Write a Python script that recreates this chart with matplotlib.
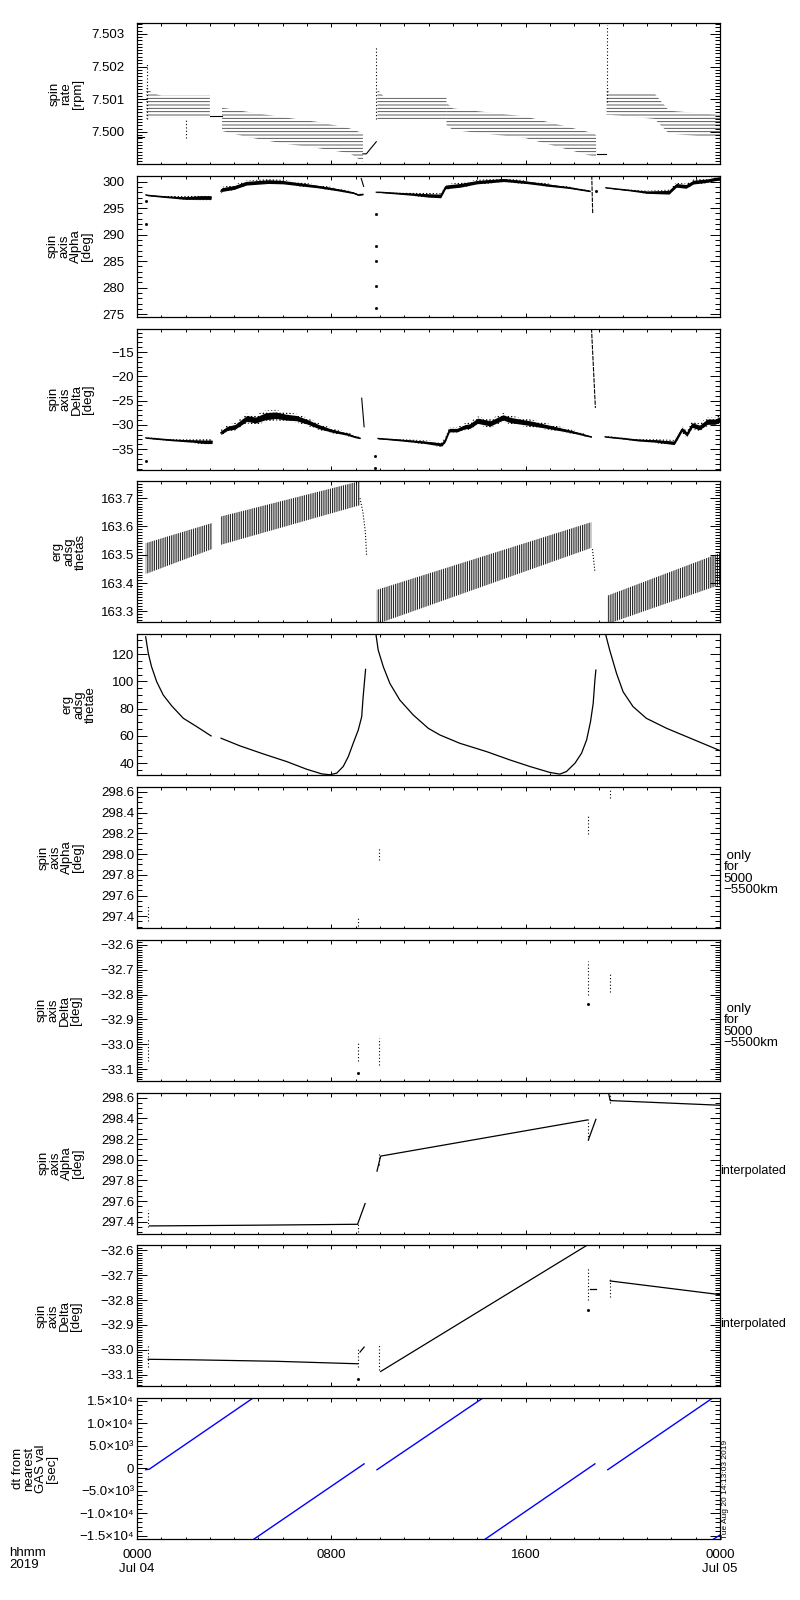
import numpy as np
import matplotlib
matplotlib.use('Agg')
import matplotlib.pyplot as plt
from matplotlib.ticker import MultipleLocator, FuncFormatter

plt.rcParams['font.family'] = ['Liberation Sans', 'DejaVu Sans']
plt.rcParams['hatch.linewidth'] = 0.6

BLUE = '#0000ff'
FS = 9.5

# ---- time axis (hours since 2019-07-04 00:00) ----
x_ticks = [0, 8, 16, 24]
x_tick_labels = ['0000\nJul 04', '0800', '1600', '0000\nJul 05']

# ---- panel 1: spin rate [rpm] (quantised bands: time, low, high) ----
rate_flat1_t = [0.0, 0.3]
rate_flat1_v = [7.49985, 7.49985]
rate_bandA_t = [0.38, 0.6, 1.0, 3.0]
rate_bandA_lo = [7.5004, 7.50045, 7.50045, 7.50045]
rate_bandA_hi = [7.5014, 7.5012, 7.50111, 7.50111]
rate_flat2_t = [3.0, 3.5]
rate_flat2_v = [7.5005, 7.5005]
rate_bandB_t = [3.5, 4.5, 6.0, 7.5, 8.75, 9.3]
rate_bandB_lo = [7.50003, 7.49985, 7.49965, 7.4995, 7.49935, 7.49909]
rate_bandB_hi = [7.50074, 7.50062, 7.50045, 7.5003, 7.50011, 7.49996]
rate_diag_t = [9.3, 9.44, 9.85]
rate_diag_v = [7.49933, 7.49933, 7.4997]
rate_bandC_t = [9.9, 10.2, 12.74]
rate_bandC_lo = [7.5004, 7.50037, 7.50037]
rate_bandC_hi = [7.5013, 7.50105, 7.50105]
rate_bandD_t = [12.74, 13.0, 16.0, 18.8, 18.9]
rate_bandD_lo = [7.50021, 7.50006, 7.49981, 7.49925, 7.4992]
rate_bandD_hi = [7.50089, 7.50072, 7.50047, 7.49996, 7.4999]
rate_flat3_t = [18.92, 19.3]
rate_flat3_v = [7.49933, 7.49933]
rate_bandE_t = [19.33, 19.5, 21.3, 21.9, 24.0]
rate_bandE_lo = [7.50052, 7.50052, 7.5004, 7.49995, 7.49982]
rate_bandE_hi = [7.5013, 7.50118, 7.50118, 7.50065, 7.50052]
rate_spike_t = [0.42, 2.0, 9.85, 19.33]
rate_spike_lo = [7.5004, 7.4998, 7.5004, 7.5009]
rate_spike_hi = [7.5021, 7.5004, 7.5026, 7.50327]

# ---- panel 2: spin axis Alpha [deg] (time, centre, half spread) ----
alpha_seg1_t = [0.36, 0.5, 1.25, 2.0, 2.6, 3.05]
alpha_seg1_v = [297.5, 297.4, 297.1, 296.9, 297.0, 297.0]
alpha_seg1_w = [0.15, 0.15, 0.2, 0.35, 0.5, 0.5]
alpha_seg2_t = [3.45, 3.5, 4.0, 4.5, 5.4, 6.0, 6.7, 7.4, 8.1, 8.9, 9.1, 9.3]
alpha_seg2_v = [298.2, 298.5, 298.9, 299.7, 300.0, 299.9, 299.5, 299.1, 298.6, 297.9, 297.5, 297.6]
alpha_seg2_w = [0.5, 0.5, 0.5, 0.5, 0.5, 0.45, 0.4, 0.35, 0.3, 0.2, 0.15, 0.15]
alpha_seg3_t = [9.85, 10.0, 11.4, 12.0, 12.5, 12.7, 13.3, 14.0, 15.1, 16.0, 17.0, 17.8, 18.65]
alpha_seg3_v = [298.0, 298.0, 297.6, 297.4, 297.3, 299.0, 299.3, 299.9, 300.3, 299.9, 299.3, 298.85, 298.2]
alpha_seg3_w = [0.1, 0.1, 0.3, 0.45, 0.5, 0.5, 0.5, 0.45, 0.4, 0.35, 0.3, 0.2, 0.15]
alpha_seg4_t = [19.3, 20.3, 21.0, 21.9, 22.2, 22.6, 22.9, 23.5, 23.8, 24.0]
alpha_seg4_v = [298.85, 298.35, 298.0, 298.0, 299.3, 299.1, 299.9, 300.2, 300.5, 300.6]
alpha_seg4_w = [0.1, 0.15, 0.3, 0.5, 0.5, 0.5, 0.5, 0.45, 0.45, 0.45]
alpha_spike1_t = [9.23, 9.33]
alpha_spike1_v = [300.6, 299.1]
alpha_spike2_t = [18.72, 18.76]
alpha_spike2_v = [301.2, 293.9]
alpha_dots_t = [0.36, 0.36, 9.84, 9.84, 9.84, 9.84, 9.84, 18.89]
alpha_dots_v = [296.3, 292.1, 293.9, 287.9, 285.0, 280.3, 276.1, 298.2]

# ---- panel 3: spin axis Delta [deg] ----
delta_seg1_t = [0.36, 0.67, 1.51, 2.35, 2.77, 3.09]
delta_seg1_v = [-32.66, -32.79, -33.14, -33.34, -33.48, -33.48]
delta_seg1_w = [0.15, 0.2, 0.25, 0.4, 0.6, 0.6]
delta_seg2_t = [3.45, 3.72, 4.04, 4.52, 4.88, 5.30, 5.72, 6.14, 6.56, 6.98, 7.50, 8.03, 8.66, 8.97, 9.18]
delta_seg2_v = [-31.62, -30.72, -30.38, -28.66, -29.0, -28.2, -28.0, -28.4, -28.6, -29.3, -30.38, -31.21, -31.9, -32.45, -32.72]
delta_seg2_w = [0.6, 0.7, 0.8, 1.0, 1.0, 1.2, 1.1, 1.0, 0.9, 0.8, 0.7, 0.5, 0.4, 0.3, 0.2]
delta_seg3_t = [9.92, 10.34, 11.18, 11.81, 12.23, 12.55, 12.69, 12.86, 13.18, 13.49, 13.70, 14.02, 14.54,
                15.07, 15.38, 16.23, 17.07, 17.91, 18.7]
delta_seg3_v = [-32.79, -32.93, -33.28, -33.55, -33.83, -34.03, -33.14, -31.07, -31.07, -30.38, -30.24, -29.14,
                -29.69, -28.45, -29.0, -29.69, -30.52, -31.41, -32.45]
delta_seg3_w = [0.15, 0.2, 0.3, 0.4, 0.5, 0.5, 0.6, 0.6, 0.6, 0.7, 0.8, 0.9, 0.9, 0.9, 0.9, 0.8, 0.6, 0.4, 0.2]
delta_seg4_t = [19.27, 20.01, 20.64, 21.27, 21.69, 22.11, 22.22, 22.43, 22.64, 22.85, 23.16, 23.48, 23.79, 24.0]
delta_seg4_v = [-32.45, -32.79, -33.14, -33.28, -33.48, -33.69, -32.79, -30.93, -31.9, -30.03, -30.52, -29.34,
                -29.34, -28.86]
delta_seg4_w = [0.15, 0.2, 0.3, 0.4, 0.5, 0.6, 0.7, 0.7, 0.7, 0.8, 0.8, 0.9, 0.9, 0.9]
delta_spike1_t = [9.25, 9.35]
delta_spike1_v = [-24.5, -30.4]
delta_spike2_t = [18.71, 18.87]
delta_spike2_v = [-10.1, -26.5]
delta_dots_t = [0.36, 9.78, 9.8]
delta_dots_v = [-37.4, -36.4, -38.9]

# ---- panel 4: erg adsg thetas (oscillation envelope) ----
thetas_seg1_t = [0.36, 3.09]
thetas_seg1_lo = [163.432, 163.52]
thetas_seg1_hi = [163.541, 163.612]
thetas_seg2_t = [3.45, 9.18]
thetas_seg2_lo = [163.535, 163.675]
thetas_seg2_hi = [163.635, 163.76]
thetas_seg3_t = [9.87, 18.7]
thetas_seg3_lo = [163.255, 163.524]
thetas_seg3_hi = [163.376, 163.615]
thetas_seg4_t = [19.35, 24.0]
thetas_seg4_lo = [163.255, 163.394]
thetas_seg4_hi = [163.355, 163.506]
thetas_tail1_t = [9.18, 9.3, 9.4, 9.45]
thetas_tail1_v = [163.70, 163.65, 163.58, 163.5]
thetas_tail2_t = [18.75, 18.8, 18.85]
thetas_tail2_v = [163.52, 163.48, 163.44]

# ---- panel 5: erg adsg thetae ----
thetae_seg1_t = [0.357, 0.466, 0.60, 0.81, 1.08, 1.43, 1.91, 2.46, 3.05]
thetae_seg1_v = [132.7, 120.5, 110.7, 99.8, 90.0, 82.0, 72.9, 66.8, 60.0]
thetae_seg2_t = [3.46, 4.24, 5.2, 6.16, 6.98, 7.6, 7.94, 8.22, 8.49, 8.7, 8.9, 9.11, 9.25, 9.31, 9.41]
thetae_seg2_v = [58.3, 52.7, 46.8, 41.2, 35.6, 32.2, 31.5, 32.7, 37.6, 44.9, 54.6, 64.4, 74.1, 88.8, 108.8]
thetae_seg3_t = [9.84, 9.93, 10.14, 10.41, 10.82, 11.37, 11.99, 12.47, 13.29, 14.39, 15.35, 16.17, 17.0,
                 17.41, 17.68, 18.03, 18.3, 18.51, 18.67, 18.78, 18.85, 18.89]
thetae_seg3_v = [134.0, 122.9, 110.7, 98.5, 86.3, 75.4, 65.6, 60.7, 54.6, 48.5, 42.4, 37.6, 33.2,
                 32.0, 33.9, 40.0, 47.3, 57.1, 70.5, 83.9, 101.0, 108.3]
thetae_seg4_t = [19.3, 19.46, 19.74, 20.01, 20.42, 20.97, 21.8, 22.62, 23.44, 23.99]
thetae_seg4_v = [133.9, 122.9, 105.9, 92.4, 81.5, 72.9, 65.6, 59.5, 53.4, 49.3]

# ---- panels 6/7: spin axis for 5000-5500 km only (short vertical runs) ----
alt_t = [0.46, 9.08, 9.96, 18.58, 19.48]
alt_alpha_lo = [297.352, 297.303, 297.948, 298.19, 298.545]
alt_alpha_hi = [297.513, 297.384, 298.068, 298.39, 298.642]
alt_delta_lo = [-33.069, -33.069, -33.083, -32.801, -32.788]
alt_delta_hi = [-32.975, -32.989, -32.975, -32.667, -32.714]
alt_delta_dots_t = [9.08, 18.58]
alt_delta_dots_v = [-33.116, -32.839]

# ---- panel 8: interpolated Alpha ----
ialpha_line1_t = [0.52, 4.85, 9.08, 9.39]
ialpha_line1_v = [297.361, 297.368, 297.377, 297.577]
ialpha_line2_t = [9.88, 10.03, 18.54]
ialpha_line2_v = [297.89, 298.035, 298.384]
ialpha_line3_t = [18.58, 18.89]
ialpha_line3_v = [298.19, 298.39]
ialpha_line4_t = [19.42, 19.48, 24.0]
ialpha_line4_v = [298.635, 298.571, 298.526]

# ---- panel 9: interpolated Delta ----
idelta_line1_t = [0.46, 2.25, 5.72, 9.08]
idelta_line1_v = [-33.038, -33.040, -33.046, -33.056]
idelta_hook_t = [9.18, 9.35]
idelta_hook_v = [-33.009, -32.989]
idelta_line2_t = [10.03, 18.6]
idelta_line2_v = [-33.087, -32.575]
idelta_line3_t = [18.64, 18.89]
idelta_line3_v = [-32.755, -32.755]
idelta_line4_t = [19.48, 24.0]
idelta_line4_v = [-32.723, -32.778]

# ---- panel 10: dt from nearest GAS val [sec] ----
dt_segments_t = [[0.36, 0.5, 4.77], [4.81, 9.35], [9.88, 14.23], [14.33, 18.85], [19.38, 23.69], [23.73, 24.0]]
dt_segments_v = [[-300, -200, 15600], [-15740, 1000], [-300, 15600], [-15740, 1000], [-300, 15600], [-15740, -14800]]
dt_ticks = [-15000, -10000, -5000, 0, 5000, 10000, 15000]
dt_tick_labels = ['\u22121.5\u00d710\u2074', '\u22121.0\u00d710\u2074', '\u22125.0\u00d710\u00b3', '0',
                  '5.0\u00d710\u00b3', '1.0\u00d710\u2074', '1.5\u00d710\u2074']

panel_titles = ['spin\nrate\n[rpm]', 'spin\naxis\nAlpha\n[deg]', 'spin\naxis\nDelta\n[deg]',
                'erg\nadsg\nthetas', 'erg\nadsg\nthetae', 'spin\naxis\nAlpha\n[deg]',
                'spin\naxis\nDelta\n[deg]', 'spin\naxis\nAlpha\n[deg]', 'spin\naxis\nDelta\n[deg]',
                'dt from\nnearest\nGAS val\n[sec]']
title_x_px = [66, 70, 71, 69, 79, 61, 59, 61, 59, 35]

# y ranges, tick spacing (major, minor), decimals, label pad
y_limits = [(7.49902, 7.50333), (274.5, 301.1), (-39.2, -10.17), (163.261, 163.759), (31.2, 134.6),
            (297.287, 298.648), (-33.147, -32.58), (297.287, 298.648), (-33.147, -32.58), (-15740, 15590)]
y_major = [0.001, 5, 5, 0.1, 20, 0.2, 0.1, 0.2, 0.1, 5000]
y_minor = [0.0001, 1, 1, 0.01, 5, 0.05, 0.01, 0.05, 0.01, 1000]
y_decimals = [3, 0, 0, 1, 0, 1, 1, 1, 1, None]
y_pads = [9, 9, 2, 2, 2, 2, 2, 2, 2, 2]


def fmt(dec):
    return FuncFormatter(lambda v, p: f'{v:.{dec}f}'.replace('-', '\u2212'))


def band_hatch(ax, t, lo, hi, hatch, color='k'):
    ax.fill_between(t, lo, hi, facecolor='none', edgecolor=color, hatch=hatch, linewidth=0)


def noisy(ax, t, v, w, core=0.65):
    v = np.array(v)
    w = np.array(w)
    # speckled outer spread and a solid core
    ax.fill_between(t, v - w, v + w, facecolor='none', edgecolor='k', hatch='.....', linewidth=0)
    ax.fill_between(t, v - core * w, v + core * w, color='k', linewidth=0)
    ax.plot(t, v, color='k', lw=0.9)


fig = plt.figure(figsize=(8, 16), dpi=100)
axes = []
for i in range(10):
    top = 23 + i * 152.8
    ax = fig.add_axes([137 / 800, 1 - (top + 141) / 1600, 583 / 800, 141 / 1600])
    ax.set_xlim(0, 24)
    ax.set_ylim(*y_limits[i])
    ax.xaxis.set_major_locator(MultipleLocator(8))
    ax.xaxis.set_minor_locator(MultipleLocator(1))
    ax.yaxis.set_major_locator(MultipleLocator(y_major[i]))
    ax.yaxis.set_minor_locator(MultipleLocator(y_minor[i]))
    if y_decimals[i] is not None:
        ax.yaxis.set_major_formatter(fmt(y_decimals[i]))
    ax.tick_params(which='both', direction='in', top=True, right=True, width=0.7, labelsize=FS)
    ax.tick_params(axis='y', which='major', length=7.5, pad=y_pads[i])
    ax.tick_params(axis='y', which='minor', length=3.6)
    ax.tick_params(axis='x', which='major', length=3)
    ax.tick_params(axis='x', which='minor', length=1.8)
    for s in ax.spines.values():
        s.set_linewidth(0.9)
    if i < 9:
        ax.set_xticklabels([])
    yc = 1 - (top + 70.5) / 1600
    fig.text(title_x_px[i] / 800, yc, panel_titles[i], rotation=90, ha='center', va='center',
             multialignment='center', fontsize=FS, linespacing=0.95)
    axes.append(ax)

# panel 1
ax = axes[0]
ax.plot(rate_flat1_t, rate_flat1_v, color='k', lw=0.8)
ax.plot(rate_flat2_t, rate_flat2_v, color='k', lw=0.8)
ax.plot(rate_flat3_t, rate_flat3_v, color='k', lw=0.8)
ax.plot(rate_diag_t, rate_diag_v, color='k', lw=0.8)
for t, lo, hi in [(rate_bandA_t, rate_bandA_lo, rate_bandA_hi), (rate_bandB_t, rate_bandB_lo, rate_bandB_hi),
                  (rate_bandC_t, rate_bandC_lo, rate_bandC_hi), (rate_bandD_t, rate_bandD_lo, rate_bandD_hi),
                  (rate_bandE_t, rate_bandE_lo, rate_bandE_hi)]:
    band_hatch(ax, t, lo, hi, '-----', color='0.25')
ax.vlines(rate_spike_t, rate_spike_lo, rate_spike_hi, colors='k', lw=0.8, linestyles=(0, (1, 2)))

# panel 2
ax = axes[1]
noisy(ax, alpha_seg1_t, alpha_seg1_v, alpha_seg1_w, core=0.7)
noisy(ax, alpha_seg2_t, alpha_seg2_v, alpha_seg2_w, core=0.7)
noisy(ax, alpha_seg3_t, alpha_seg3_v, alpha_seg3_w, core=0.7)
noisy(ax, alpha_seg4_t, alpha_seg4_v, alpha_seg4_w, core=0.7)
ax.plot(alpha_spike1_t, alpha_spike1_v, color='k', lw=0.8)
ax.plot(alpha_spike2_t, alpha_spike2_v, color='k', lw=0.8, dashes=(4, 1))
ax.plot(alpha_dots_t, alpha_dots_v, 's', color='k', ms=1)

# panel 3
ax = axes[2]
noisy(ax, delta_seg1_t, delta_seg1_v, delta_seg1_w, core=0.6)
noisy(ax, delta_seg2_t, delta_seg2_v, delta_seg2_w, core=0.6)
noisy(ax, delta_seg3_t, delta_seg3_v, delta_seg3_w, core=0.6)
noisy(ax, delta_seg4_t, delta_seg4_v, delta_seg4_w, core=0.6)
ax.plot(delta_spike1_t, delta_spike1_v, color='k', lw=0.8)
ax.plot(delta_spike2_t, delta_spike2_v, color='k', lw=0.8, dashes=(4, 1))
ax.plot(delta_dots_t, delta_dots_v, 's', color='k', ms=1)

# panel 4
ax = axes[3]
for t, lo, hi in [(thetas_seg1_t, thetas_seg1_lo, thetas_seg1_hi), (thetas_seg2_t, thetas_seg2_lo, thetas_seg2_hi),
                  (thetas_seg3_t, thetas_seg3_lo, thetas_seg3_hi), (thetas_seg4_t, thetas_seg4_lo, thetas_seg4_hi)]:
    band_hatch(ax, t, lo, hi, '|||||||||')
ax.plot(thetas_tail1_t, thetas_tail1_v, color='k', lw=0.8, ls=':')
ax.plot(thetas_tail2_t, thetas_tail2_v, color='k', lw=0.8, ls=':')

# panel 5
ax = axes[4]
for t, v in [(thetae_seg1_t, thetae_seg1_v), (thetae_seg2_t, thetae_seg2_v),
             (thetae_seg3_t, thetae_seg3_v), (thetae_seg4_t, thetae_seg4_v)]:
    ax.plot(t, v, color='k', lw=0.9)

# panels 6, 7
axes[5].vlines(alt_t, alt_alpha_lo, alt_alpha_hi, colors='k', lw=0.8, linestyles=(0, (1, 2)))
axes[6].vlines(alt_t, alt_delta_lo, alt_delta_hi, colors='k', lw=0.8, linestyles=(0, (1, 2)))
axes[6].plot(alt_delta_dots_t, alt_delta_dots_v, 's', color='k', ms=1)

# panel 8
ax = axes[7]
for t, v in [(ialpha_line1_t, ialpha_line1_v), (ialpha_line2_t, ialpha_line2_v),
             (ialpha_line3_t, ialpha_line3_v), (ialpha_line4_t, ialpha_line4_v)]:
    ax.plot(t, v, color='k', lw=0.9)
ax.vlines(alt_t, alt_alpha_lo, alt_alpha_hi, colors='k', lw=0.8, linestyles=(0, (1, 2)))

# panel 9
ax = axes[8]
for t, v in [(idelta_line1_t, idelta_line1_v), (idelta_hook_t, idelta_hook_v),
             (idelta_line2_t, idelta_line2_v), (idelta_line3_t, idelta_line3_v),
             (idelta_line4_t, idelta_line4_v)]:
    ax.plot(t, v, color='k', lw=0.9)
ax.vlines(alt_t, alt_delta_lo, alt_delta_hi, colors='k', lw=0.8, linestyles=(0, (1, 2)))
ax.plot(alt_delta_dots_t, alt_delta_dots_v, 's', color='k', ms=1)

# panel 10
ax = axes[9]
for t, v in zip(dt_segments_t, dt_segments_v):
    ax.plot(t, v, color=BLUE, lw=1.0)
ax.set_yticks(dt_ticks, dt_tick_labels)
ax.set_xticks(x_ticks, x_tick_labels)
ax.tick_params(axis='x', which='major', pad=7)
ax.text(1.004, 0.0, 'Tue Aug 20 14:13:03 2019', rotation=90, fontsize=6, ha='left', va='bottom',
        transform=ax.transAxes)
fig.text(9 / 800, 1 - 1547 / 1600, 'hhmm\n2019', ha='left', va='top', fontsize=FS, linespacing=1.0)

# right-hand notes
for k in (5, 6):
    axes[k].text(1.006, 0.555, ' only\nfor\n5000\n\u22125500km', transform=axes[k].transAxes,
                 ha='left', va='top', fontsize=FS, linespacing=0.95)
for k in (7, 8):
    axes[k].text(1.001, 0.445, 'interpolated', transform=axes[k].transAxes,
                 ha='left', va='center', fontsize=9)

fig.savefig('out.png', dpi=100)
